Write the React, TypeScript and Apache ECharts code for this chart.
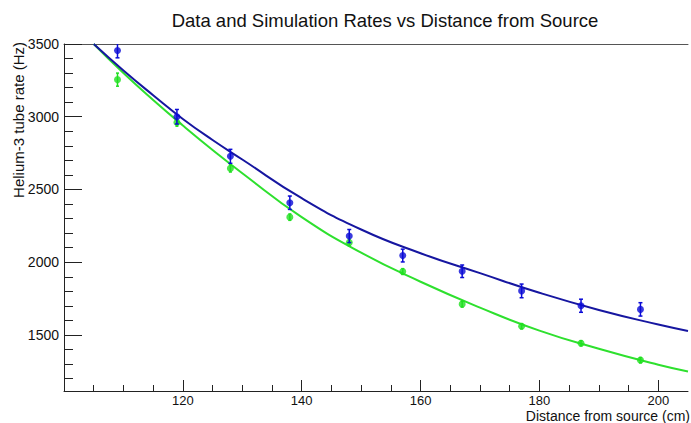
import React, { useEffect, useRef } from "react";
import * as echarts from "echarts";

// Measured points (distance in cm)
const pointX = [109, 119, 128, 138, 148, 157, 167, 177, 187, 197];
const dataRate = [3455, 3000, 2728, 2409, 2180, 2046, 1938, 1803, 1701, 1676];
const dataErr = [50, 50, 48, 46, 45, 44, 43, 47, 45, 46];
const simRate = [3255, 2960, 2645, 2310, 2135, 1936, 1712, 1560, 1443, 1327];
const simErr = [45, 25, 25, 22, 22, 20, 20, 18, 18, 18];

// Fitted curves
const curveX = [105, 110, 115, 120, 125, 130, 140, 150, 160, 170, 180, 190, 200, 205];
const dataFit = [3500, 3318, 3148, 2985, 2840, 2706, 2440, 2225, 2062, 1925, 1790, 1672, 1572, 1528];
const simFit = [3500, 3300, 3115, 2940, 2772, 2612, 2310, 2066, 1866, 1688, 1530, 1405, 1295, 1249];

// Axis ticks
const xMajor = [120, 140, 160, 180, 200];
const xMinor = [105, 110, 115, 125, 130, 135, 145, 150, 155, 165, 170, 175, 185, 190, 195];
const yMajor = [1500, 2000, 2500, 3000, 3500];
const yMinor = [1200, 1300, 1400, 1600, 1700, 1800, 1900, 2100, 2200, 2300, 2400, 2600, 2700, 2800, 2900, 3100, 3200, 3300, 3400];

const BLUE_LINE = "#1616a0";
const BLUE_PT = "#0a0ad6";
const GREEN_LINE = "#2ee02e";
const GREEN_PT = "#20e020";
const FONT = "Liberation Sans";

function errorBars(color: string, capHalf: number) {
  return (params: any, api: any) => {
    const x = api.value(0);
    const y = api.value(1);
    const e = api.value(2);
    const top = api.coord([x, y + e]);
    const bot = api.coord([x, y - e]);
    const st = { stroke: color, lineWidth: 1.5 };
    return {
      type: "group",
      children: [
        { type: "line", shape: { x1: top[0], y1: top[1], x2: bot[0], y2: bot[1] }, style: st },
        { type: "line", shape: { x1: top[0] - capHalf, y1: top[1], x2: top[0] + capHalf, y2: top[1] }, style: st },
        { type: "line", shape: { x1: bot[0] - capHalf, y1: bot[1], x2: bot[0] + capHalf, y2: bot[1] }, style: st },
      ],
    };
  };
}

export default function App() {
  const ref = useRef<HTMLDivElement>(null);
  useEffect(() => {
    if (!ref.current) return;
    const chart = echarts.init(ref.current, null, { renderer: "svg" });
    const yMin = 1115;
    const yMax = 3500;
    const axisColor = "#222";
    chart.setOption({
      animation: false,
      backgroundColor: "#fff",
      title: {
        text: "Data and Simulation Rates vs Distance from Source",
        left: 380,
        top: 6,
        textAlign: "center",
        textStyle: { fontFamily: FONT, fontSize: 18.5, fontWeight: "normal", color: "#111" },
      },
      grid: { left: 64, right: 3, top: 44, bottom: 32, containLabel: false },
      xAxis: [
        {
          type: "value",
          min: 100,
          max: 205,
          axisLine: { show: true, lineStyle: { color: axisColor, width: 1 } },
          axisTick: { show: true, inside: true, length: 11, customValues: xMajor, lineStyle: { color: axisColor } },
          axisLabel: {
            show: true,
            customValues: xMajor,
            margin: 3,
            fontFamily: FONT,
            fontSize: 13,
            color: "#111",
            formatter: (v: number) => String(v),
          },
          splitLine: { show: false },
        },
        {
          type: "value",
          min: 100,
          max: 205,
          position: "bottom",
          axisLine: { show: false },
          axisTick: { show: true, inside: true, length: 6, customValues: xMinor, lineStyle: { color: axisColor } },
          axisLabel: { show: false },
          splitLine: { show: false },
        },
        {
          type: "value",
          min: 100,
          max: 205,
          position: "top",
          axisLine: { show: true, lineStyle: { color: "#555", width: 1 } },
          axisTick: { show: false },
          axisLabel: { show: false },
          splitLine: { show: false },
        },
      ],
      yAxis: [
        {
          type: "value",
          min: yMin,
          max: yMax,
          axisLine: { show: true, lineStyle: { color: axisColor, width: 1 } },
          axisTick: { show: true, inside: true, length: 18, customValues: yMajor, lineStyle: { color: axisColor } },
          axisLabel: {
            show: true,
            customValues: yMajor,
            margin: 5,
            fontFamily: FONT,
            fontSize: 14,
            color: "#111",
            formatter: (v: number) => String(v),
          },
          splitLine: { show: false },
        },
        {
          type: "value",
          min: yMin,
          max: yMax,
          position: "left",
          axisLine: { show: false },
          axisTick: { show: true, inside: true, length: 9, customValues: yMinor, lineStyle: { color: axisColor } },
          axisLabel: { show: false },
          splitLine: { show: false },
        },
      ],
      graphic: [
        {
          type: "text",
          x: 18.5,
          y: 42,
          rotation: Math.PI / 2,
          style: {
            text: "Helium-3 tube rate (Hz)",
            fontFamily: FONT,
            fontSize: 15,
            fill: "#111",
            textAlign: "right",
            textVerticalAlign: "middle",
          },
        },
        {
          type: "text",
          x: 690,
          y: 416,
          style: {
            text: "Distance from source (cm)",
            fontFamily: FONT,
            fontSize: 14,
            fill: "#111",
            textAlign: "right",
            textVerticalAlign: "middle",
          },
        },
      ],
      series: [
        {
          name: "Simulation fit",
          type: "line",
          smooth: 0.5,
          showSymbol: false,
          symbol: "none",
          clip: true,
          data: curveX.map((x, i) => [x, simFit[i]]),
          lineStyle: { color: GREEN_LINE, width: 2 },
          z: 2,
        },
        {
          name: "Data fit",
          type: "line",
          smooth: 0.5,
          showSymbol: false,
          symbol: "none",
          clip: true,
          data: curveX.map((x, i) => [x, dataFit[i]]),
          lineStyle: { color: BLUE_LINE, width: 2 },
          z: 3,
        },
        {
          name: "Simulation errors",
          type: "custom",
          renderItem: errorBars(GREEN_PT, 1.5),
          data: pointX.map((x, i) => [x, simRate[i], simErr[i]]),
          clip: true,
          z: 4,
        },
        {
          name: "Simulation",
          type: "scatter",
          symbol: "circle",
          symbolSize: 7,
          data: pointX.map((x, i) => [x, simRate[i]]),
          itemStyle: { color: GREEN_PT },
          z: 5,
        },
        {
          name: "Data errors",
          type: "custom",
          renderItem: errorBars(BLUE_PT, 2),
          data: pointX.map((x, i) => [x, dataRate[i], dataErr[i]]),
          clip: true,
          z: 6,
        },
        {
          name: "Data",
          type: "scatter",
          symbol: "circle",
          symbolSize: 7,
          data: pointX.map((x, i) => [x, dataRate[i]]),
          itemStyle: { color: BLUE_PT },
          z: 7,
        },
      ],
    });
    return () => chart.dispose();
  }, []);
  return (
    <div
      ref={ref}
      style={{ position: "fixed", left: 0, top: 0, width: 691, height: 423, background: "#fff" }}
    />
  );
}
